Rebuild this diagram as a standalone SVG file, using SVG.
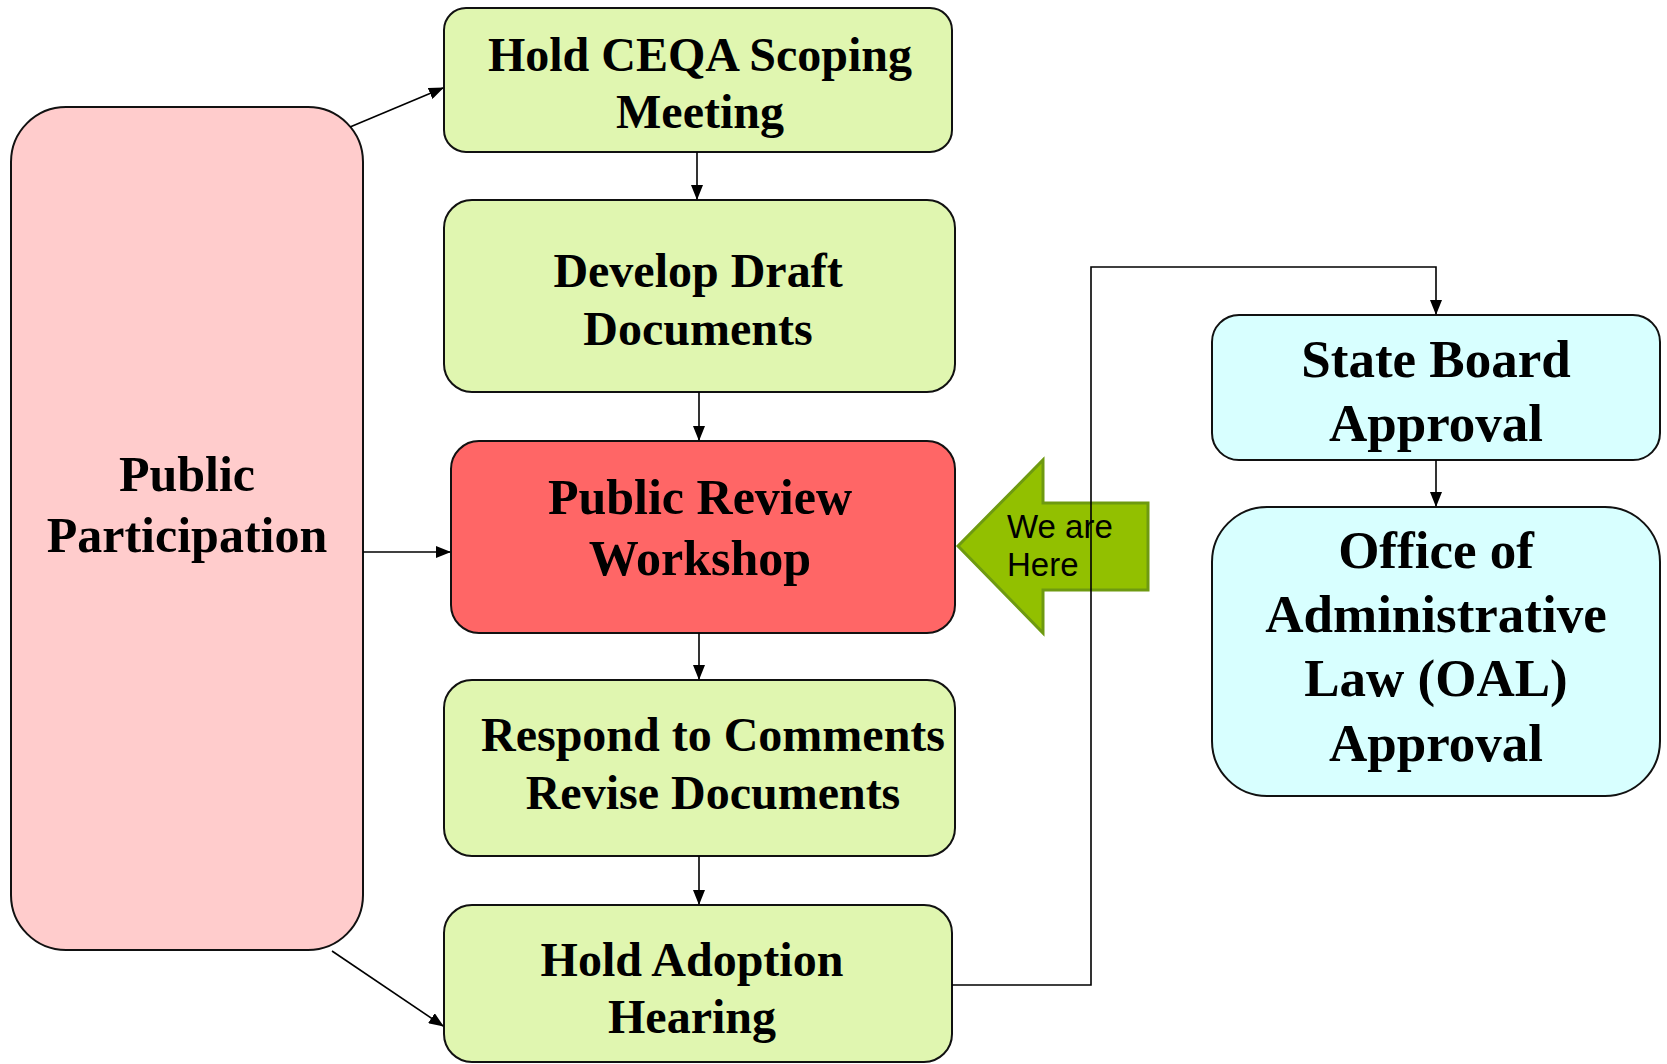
<svg xmlns="http://www.w3.org/2000/svg" width="1667" height="1064" viewBox="0 0 1667 1064">
<style>
.box{stroke:#111;stroke-width:2}
.g{fill:#E0F6B0}
.t{font-family:"Liberation Serif","Times New Roman",serif;font-weight:bold;fill:#000;text-anchor:middle}
.c{fill:none;stroke:#000;stroke-width:1.6}
</style>
<defs>
<marker id="ah" markerWidth="15" markerHeight="12" refX="14" refY="6" orient="auto" markerUnits="userSpaceOnUse">
<path d="M0,0 L15,6 L0,12 Z" fill="#000"/>
</marker>
</defs>
<rect width="1667" height="1064" fill="#fff"/>
<g id="public-participation">
<rect class="box" x="11" y="107" width="352" height="843" rx="55" fill="#FFCCCC"/>
<text class="t" font-size="50"><tspan x="187" y="491">Public</tspan><tspan x="187" y="552">Participation</tspan></text>
</g>
<g id="hold-ceqa">
<rect class="box g" x="444" y="8" width="508" height="144" rx="22"/>
<text class="t" font-size="48"><tspan x="700" y="71">Hold CEQA Scoping</tspan><tspan x="700" y="128">Meeting</tspan></text>
</g>
<g id="develop-draft">
<rect class="box g" x="444" y="200" width="511" height="192" rx="28"/>
<text class="t" font-size="48"><tspan x="698" y="287">Develop Draft</tspan><tspan x="698" y="345">Documents</tspan></text>
</g>
<g id="public-review">
<rect class="box" x="451" y="441" width="504" height="192" rx="28" fill="#FF6666"/>
<text class="t" font-size="50"><tspan x="700" y="514">Public Review</tspan><tspan x="700" y="575">Workshop</tspan></text>
</g>
<g id="respond">
<rect class="box g" x="444" y="680" width="511" height="176" rx="28"/>
<text class="t" font-size="48"><tspan x="713" y="751">Respond to Comments</tspan><tspan x="713" y="809">Revise Documents</tspan></text>
</g>
<g id="hold-adoption">
<rect class="box g" x="444" y="905" width="508" height="157" rx="28"/>
<text class="t" font-size="48"><tspan x="692" y="976">Hold Adoption</tspan><tspan x="692" y="1033">Hearing</tspan></text>
</g>
<g id="state-board">
<rect class="box" x="1212" y="315" width="448" height="145" rx="27" fill="#D8FFFF"/>
<text class="t" font-size="53"><tspan x="1436" y="377">State Board</tspan><tspan x="1436" y="441">Approval</tspan></text>
</g>
<g id="oal">
<rect class="box" x="1212" y="507" width="448" height="289" rx="55" fill="#D8FFFF"/>
<text class="t" font-size="53"><tspan x="1436" y="568">Office of</tspan><tspan x="1436" y="632">Administrative</tspan><tspan x="1436" y="696">Law (OAL)</tspan><tspan x="1436" y="761">Approval</tspan></text>
</g>
<g id="we-are-here">
<path d="M958,546 L1043,460 L1043,503 L1148,503 L1148,590 L1043,590 L1043,633 Z" fill="#92C000" stroke="#6E9A10" stroke-width="3" stroke-linejoin="miter"/>
<text font-family="'Liberation Sans',Arial,sans-serif" font-size="33" fill="#000"><tspan x="1007" y="538">We are</tspan><tspan x="1007" y="576">Here</tspan></text>
</g>
<g id="connectors">
<path class="c" d="M350,127 L443,88" marker-end="url(#ah)"/>
<path class="c" d="M697,152 L697,199" marker-end="url(#ah)"/>
<path class="c" d="M699,392 L699,440" marker-end="url(#ah)"/>
<path class="c" d="M363,552 L450,552" marker-end="url(#ah)"/>
<path class="c" d="M699,633 L699,679" marker-end="url(#ah)"/>
<path class="c" d="M699,856 L699,904" marker-end="url(#ah)"/>
<path class="c" d="M332,951 L443,1026" marker-end="url(#ah)"/>
<path class="c" d="M952,985 L1091,985 L1091,267 L1436,267 L1436,314" marker-end="url(#ah)"/>
<path class="c" d="M1436,460 L1436,506" marker-end="url(#ah)"/>
</g>
</svg>
